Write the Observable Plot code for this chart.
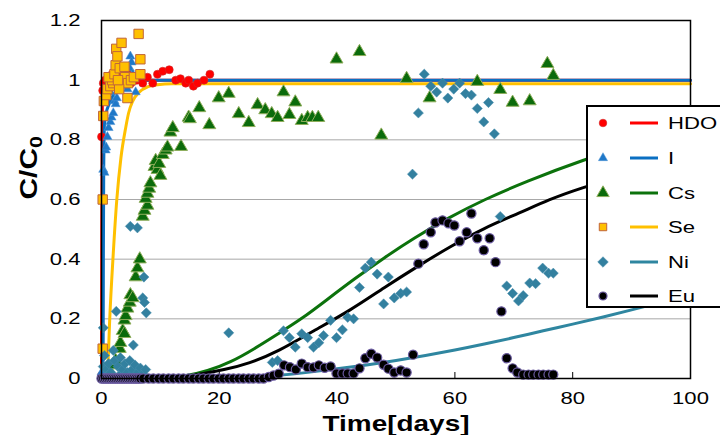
<!DOCTYPE html>
<html><head><meta charset="utf-8">
<script src="https://cdn.jsdelivr.net/npm/d3@7"></script>
<script src="https://cdn.jsdelivr.net/npm/@observablehq/plot@0.6"></script>
<style>
html,body{margin:0;padding:0;background:#fff;overflow:hidden;width:720px;height:435px;}
#wrap{position:relative;width:720px;height:435px;font-family:"Liberation Sans",Arial,sans-serif;}
#legend{position:absolute;left:586px;top:105px;width:150px;height:199px;border:2px solid #000;background:#fff;}
</style></head><body><div id="wrap"></div>
<script>
// ---- axis ticks ----
const xTicks = [0, 20, 40, 60, 80, 100];
const yTicks = [0, 0.2, 0.4, 0.6, 0.8, 1, 1.2];
const yGrid = [0.2, 0.4, 0.6, 0.8, 1];
const xTitle = "Time[days]";
const yTitle = "C/C0";

// ---- series ----
const seriesNames = ["HDO", "I", "Cs", "Se", "Ni", "Eu"];
const lineColors = ["#ff0000", "#0a6fc2", "#0c720c", "#ffc000", "#2f86a0", "#000000"];

// model curves [days, C/C0]
const hdoModel = [[0,0],[0.05,0.5],[0.15,0.97],[0.5,1],[100,1]];
const iModel = [[0,0],[0.22,0],[0.28,0.1],[0.32,0.4],[0.38,0.7],[0.5,0.85],[0.8,0.89],[1.3,0.92],[2,0.95],[3,0.97],[4.5,0.99],[6,0.997],[8,1],[100,1]];
const csModel = [[10,0],[14,0.006],[18,0.025],[22,0.055],[26,0.1],[30,0.15],[34,0.2],[38,0.26],[43,0.335],[48,0.405],[53,0.47],[59,0.54],[65,0.6],[72,0.66],[82,0.735],[91,0.79],[100,0.84]];
const seModel = [[0.9,0],[1.1,0.05],[1.4,0.2],[2,0.42],[2.6,0.6],[3.3,0.74],[4.1,0.84],[4.6,0.89],[5.3,0.93],[6.4,0.96],[7.9,0.978],[9.5,0.985],[12,0.988],[100,0.988]];
const niModel = [[15,0],[20,0.002],[25,0.005],[30,0.01],[35,0.02],[40,0.033],[45,0.045],[50,0.06],[55,0.077],[60,0.095],[65,0.115],[70,0.137],[75,0.16],[80,0.182],[85,0.205],[90,0.23],[95,0.255],[100,0.28]];
const euModel = [[12,0],[17,0.015],[21,0.03],[25,0.05],[30,0.09],[36,0.16],[42,0.225],[48,0.305],[54,0.38],[59,0.44],[65,0.505],[71,0.555],[76,0.6],[81,0.636],[90,0.69],[100,0.74]];

// measured points [days, C/C0]
const hdoPts = [[0,0.01],[0,0.81],[0.2,0.965],[0.3,0.99],[0.6,1.0],[0.9,0.98],[1.2,1.01],[1.5,1.0],[1.8,1.02],[2.1,0.99],[2.4,1.03],[2.7,1.0],[3.0,1.02],[3.3,0.99],[3.6,1.04],[4,1.0],[4.5,1.02],[5,0.99],[5.5,1.01],[6,1.0],[6.5,1.02],[7,0.99],[7.8,1.01],[8.7,0.99],[9.5,1.02],[10.4,1.03],[11.5,1.035],[12.6,1.0],[13.4,1.005],[14.3,0.99],[14.8,1.0],[15.6,0.98],[16.3,0.99],[17.4,1.0],[18.4,1.02]];
const iPts = [[0,0.02],[0.3,0.70],[0.5,0.69],[0.7,0.765],[0.8,0.775],[1,0.81],[1.2,0.84],[1.5,0.86],[1.7,0.875],[2,0.89],[2.2,0.93],[2.4,0.92],[2.6,0.94],[1.5,0.96],[2.2,0.98],[3.1,0.99],[3.6,1.015],[3.9,0.98],[4.1,1.0],[4.4,0.97],[4.8,1.04],[4.9,1.08],[5.1,1.06],[5.3,1.02],[5.8,0.96]];
const csPts = [[1,0.005],[1.5,0.02],[1.9,0.045],[2.4,0.06],[3.1,0.10],[3.2,0.12],[3.6,0.16],[3.9,0.15],[3.9,0.195],[4.1,0.21],[4.4,0.235],[4.8,0.255],[4.9,0.28],[5.3,0.27],[5.8,0.34],[6.1,0.37],[6.5,0.40],[7,0.543],[7.3,0.563],[7.8,0.58],[7.5,0.603],[7.8,0.62],[8.1,0.637],[8.3,0.655],[9,0.71],[9.2,0.73],[9.5,0.70],[9.8,0.72],[10,0.68],[10.4,0.75],[10.9,0.765],[11.2,0.775],[11.7,0.825],[12.1,0.84],[13.5,0.777],[14.8,0.875],[15,0.87],[16.6,0.907],[18.3,0.85],[19.9,0.94],[21.6,0.955],[23.3,0.887],[25,0.857],[26.5,0.917],[27.8,0.9],[28.9,0.887],[29.9,0.874],[30.9,0.96],[31.9,0.884],[32.9,0.926],[34,0.864],[35,0.874],[35.8,0.874],[36.8,0.874],[39.9,1.07],[43.8,1.095],[47.5,0.815],[51.8,1.005],[55.7,0.94],[63.8,0.995],[67.7,0.968],[69.8,0.925],[72.7,0.93],[75.7,1.055],[76.7,1.015]];
const sePts = [[0.2,0.10],[0.2,0.60],[0.3,0.88],[0.4,0.93],[0.8,0.95],[1,0.97],[1.5,0.98],[2,0.99],[1.8,1.0],[1.2,1.01],[2.2,1.02],[2.4,1.05],[2.5,1.105],[2.7,1.08],[3.4,1.125],[3.1,1.04],[3.9,1.045],[3.5,1.0],[4,1.01],[4.4,0.94],[4.5,0.99],[5,1.0],[5.5,1.01],[6.3,1.155],[6.6,1.07],[6.6,1.02],[3,0.97],[2.8,1.0]];
const niPts = [[0.3,0.17],[0.5,0.077],[0.3,0.04],[0.8,0.03],[1,0.01],[1.2,0.05],[1.6,0.02],[2,0.094],[2.2,0.06],[2.5,0.225],[2.8,0.04],[3,0.01],[3.2,0.07],[3.6,0.03],[4,0.05],[4.4,0.02],[4.8,0.06],[4.9,0.51],[5,0.01],[5.2,0.03],[5.4,0.112],[5.7,0.045],[6.1,0.505],[6.2,0.02],[6.6,0.035],[7,0.015],[7,0.27],[7.2,0.34],[7.3,0.255],[7.5,0.03],[7.6,0.22],[21.6,0.153],[29,0.054],[29.9,0.06],[30.9,0.16],[31.9,0.137],[32.9,0.105],[34,0.15],[35,0.137],[36,0.105],[36.9,0.12],[37.7,0.144],[38.9,0.195],[39.9,0.137],[40.9,0.163],[41.8,0.205],[42.8,0.2],[43.8,0.305],[44.8,0.37],[45.8,0.39],[46.8,0.35],[47.9,0.25],[48.7,0.34],[49.7,0.27],[50.8,0.285],[51.8,0.29],[52.8,0.685],[53.8,0.89],[54.8,1.02],[55.9,0.98],[56.9,0.96],[57.9,0.99],[58.8,0.94],[59.8,0.97],[60.8,0.99],[61.8,0.955],[62.8,0.95],[63.8,0.905],[64.9,0.86],[65.7,0.925],[66.7,0.82],[67.7,0.543],[68.8,0.31],[69.8,0.285],[70.8,0.26],[71.6,0.278],[72.7,0.32],[73.7,0.318],[74.9,0.37],[75.9,0.353],[76.7,0.353]];
const euPts = [[0,0],[0.3,0],[0.6,0],[0.9,0],[1.2,0],[1.5,0],[1.8,0],[2.1,0],[2.4,0],[2.7,0],[3,0],[3.3,0],[3.6,0],[3.9,0],[4.2,0],[4.5,0],[4.8,0],[5.1,0],[5.4,0],[5.7,0],[6,0],[6.3,0],[6.6,0],[7.1,0],[8,0],[8.8,0],[9.7,0],[10.5,0],[11.4,0],[12.2,0],[13.1,0],[13.9,0],[14.8,0],[15.6,0],[16.5,0],[17.3,0],[18.2,0],[19,0],[19.9,0],[20.7,0],[21.6,0],[22.4,0],[23.3,0],[24.1,0],[25,0],[25.8,0],[26.7,0],[27.5,0],[28.4,0.005],[29.2,0.01],[30.1,0.016],[31,0.044],[32,0.038],[33,0.03],[34,0.05],[35,0.038],[36,0.037],[36.9,0.044],[37.9,0.036],[38.9,0.04],[39.9,0.017],[40.9,0.017],[41.8,0.017],[42.8,0.017],[43.8,0.034],[44.8,0.068],[45.8,0.083],[46.8,0.07],[47.9,0.046],[48.7,0.033],[49.7,0.02],[50.8,0.027],[51.8,0.02],[52.9,0.08],[53.8,0.385],[54.7,0.45],[55.9,0.49],[56.7,0.523],[57.9,0.53],[58.9,0.52],[59.9,0.513],[60.8,0.46],[62,0.49],[62.8,0.553],[63.8,0.47],[64.9,0.43],[65.9,0.47],[66.9,0.39],[67.9,0.225],[68.8,0.068],[69.8,0.034],[70.6,0.02],[71.6,0.013],[72.5,0.013],[73.3,0.013],[74.2,0.013],[75,0.013],[75.9,0.013],[76.7,0.013]];

// ---- marker styles ----
const markerStyles = [
  {symbol:"circle", r:4, fill:"#ff0000", stroke:"#d02a2a", strokeWidth:0.6},
  {symbol:"triangle", r:3.4, fill:"#1f78c8", stroke:"#4d93d4", strokeWidth:0.5},
  {symbol:"triangle", r:4.8, fill:"#0b6b0b", stroke:"#8fae5c", strokeWidth:1},
  {symbol:"square", r:5.3, fill:"#ffc000", stroke:"#c0653a", strokeWidth:1},
  {symbol:"diamond2", r:4.6, fill:"#33809f", stroke:"#4b8fae", strokeWidth:0.5},
  {symbol:"circle", r:4.6, fill:"#000000", stroke:"#6a5aa0", strokeWidth:1.2}
];
const curveTypes = ["monotone-x", "monotone-x", "basis", "monotone-x", "basis", "basis"];
const models = [hdoModel, iModel, csModel, seModel, niModel, euModel];
const points = [hdoPts, iPts, csPts, sePts, niPts, euPts];

const W = 720, H = 435;
const marks = [
  Plot.gridY(yGrid, {stroke:"#a8a8a8", strokeOpacity:1, strokeWidth:1}),
  Plot.tickX(xTicks, {x:d=>d, insetTop:352, stroke:"#000", strokeWidth:1}),
  ...models.map((m,i)=>Plot.line(m, {x:d=>d[0], y:d=>d[1], stroke:lineColors[i], strokeWidth:3, curve:curveTypes[i]})),
  ...points.map((p,i)=>Plot.dot(p, {x:d=>d[0], y:d=>d[1], ...markerStyles[i]})),
  Plot.frame({stroke:"#000", strokeWidth:1.5}),
  Plot.axisX({ticks:xTicks, tickSize:0, tickPadding:13, fontSize:17, tickFormat:d=>String(d), label:null}),
  Plot.axisY({ticks:yTicks, tickSize:0, tickPadding:21, fontSize:17, tickFormat:d=>String(d), label:null}),
  Plot.text([xTitle], {text:d=>d, frameAnchor:"bottom", dy:52, fontSize:21.5, fontWeight:"bold", fill:"#000"}),
  Plot.text([yTitle], {text:d=>d, frameAnchor:"left", dx:-72, rotate:-90, fontSize:23, fontWeight:"bold", fill:"#000"})
];

const chart = Plot.plot({
  width: W, height: H,
  marginLeft: 101, marginRight: 30, marginTop: 20, marginBottom: 57,
  style: {fontFamily:"'Liberation Sans', Arial, sans-serif", color:"#000", background:"#fff", overflow:"visible"},
  x: {domain:[0,100]},
  y: {domain:[0,1.2]},
  marks
});
const wrap = document.getElementById("wrap");
wrap.appendChild(chart);

// stretch text horizontally like the reference, and subscript
chart.querySelectorAll("text").forEach(t => {
  const tr = t.getAttribute("transform") || "";
  t.setAttribute("transform", tr + " scale(1.3,1)");
  if (t.textContent === yTitle) {
    const s = d3.select(t);
    s.text("C/C");
    s.append("tspan").attr("dy","0.3em").attr("font-size","0.72em").text("0");
  }
});

// legend
const leg = document.createElement("div");
leg.id = "legend";
wrap.appendChild(leg);
const lsvg = d3.select(leg).append("svg").attr("width",150).attr("height",199).style("display","block");
const rowY = [16, 51, 86, 120, 155, 189];
const legendSizes = [3.8, 3.4, 4.6, 4.2, 4.8, 4.0];
const symMap = {circle:d3.symbolCircle, triangle:d3.symbolTriangle, square:d3.symbolSquare, diamond2:d3.symbolDiamond2};
seriesNames.forEach((name,i)=>{
  const g = lsvg.append("g").attr("transform",`translate(0,${rowY[i]})`);
  const ms = markerStyles[i];
  const r = legendSizes[i];
  g.append("path").attr("transform","translate(15,0)")
    .attr("d", d3.symbol(symMap[ms.symbol], Math.PI*r*r)())
    .attr("fill", ms.fill).attr("stroke", ms.stroke).attr("stroke-width", ms.strokeWidth);
  g.append("line").attr("x1",42).attr("x2",70).attr("y1",0).attr("y2",0)
    .attr("stroke", lineColors[i]).attr("stroke-width",3);
  g.append("text").attr("transform","translate(80,0) scale(1.3,1)")
    .attr("dominant-baseline","central").attr("font-size",17)
    .attr("font-family","'Liberation Sans', Arial, sans-serif").attr("fill","#000").text(name);
});
</script></body></html>
